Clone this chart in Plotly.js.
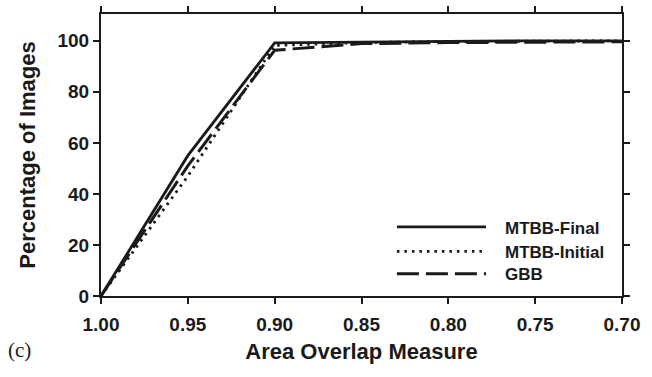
<!DOCTYPE html>
<html>
<head>
<meta charset="utf-8">
<script src="https://cdn.plot.ly/plotly-3.0.1.min.js"></script>
<style>html,body{margin:0;padding:0;background:#fff;}#chart{width:652px;height:377px;}</style>
</head>
<body>
<div id="chart"></div>
<script>
// Data
const overlap = [1.00, 0.95, 0.90, 0.85, 0.80, 0.75, 0.70];
const mtbbFinal = [0, 55, 99.2, 99.6, 99.8, 100, 100];
const mtbbInitial = [0, 47, 98.2, 99.3, 99.7, 99.9, 100];
const gbb = [0, 51, 96.3, 98.9, 99.3, 99.5, 99.6];
const seriesNames = ['MTBB-Final', 'MTBB-Initial', 'GBB'];
const xTicks = [1.00, 0.95, 0.90, 0.85, 0.80, 0.75, 0.70];
const yTicks = [0, 20, 40, 60, 80, 100];

const FONT = 'Liberation Sans, Arial, sans-serif';
const dashes = ['solid', '2.5px,5px', '22px,7px'];
const widths = [2.8, 2.8, 3];
const ys = [mtbbFinal, mtbbInitial, gbb];

const traces = ys.map((y, i) => ({
  x: overlap, y: y, type: 'scatter', mode: 'lines', name: seriesNames[i],
  line: {color: '#1a1a1a', width: widths[i], dash: dashes[i]},
  showlegend: false
}));

// legend drawn with shapes + text
const legY = [0.245, 0.158, 0.079];
const shapes = legY.map((yy, i) => ({
  type: 'line', xref: 'paper', yref: 'paper', x0: 0.568, x1: 0.739, y0: yy, y1: yy,
  line: {color: '#1a1a1a', width: widths[i], dash: dashes[i]}
}));
const annotations = legY.map((yy, i) => ({
  xref: 'paper', yref: 'paper', x: 0.771, y: yy - 0.004, xanchor: 'left', yanchor: 'middle',
  text: seriesNames[i], showarrow: false,
  font: {family: FONT, size: 17, color: '#1a1a1a', weight: 'bold'}
}));
annotations.push({
  xref: 'paper', yref: 'paper', x: -0.183, y: -0.19, xanchor: 'left', yanchor: 'middle',
  text: '(c)', showarrow: false,
  font: {family: 'Liberation Serif, Times New Roman, serif', size: 21, color: '#1a1a1a'}
});

const axisCommon = {
  showgrid: false, zeroline: false, showline: true, linecolor: '#1a1a1a', linewidth: 2,
  mirror: 'allticks', ticks: 'outside', ticklen: 6, tickwidth: 2, tickcolor: '#1a1a1a',
  tickfont: {family: FONT, size: 19, color: '#1a1a1a', weight: 'bold'}
};

const layout = {
  width: 652, height: 377,
  margin: {l: 101, r: 30, t: 14, b: 81},
  paper_bgcolor: '#ffffff', plot_bgcolor: '#ffffff',
  xaxis: Object.assign({}, axisCommon, {
    range: [1.0, 0.7], tickvals: xTicks, ticktext: xTicks.map(v => v.toFixed(2)),
    ticklabelstandoff: 4,
    title: {text: 'Area Overlap Measure', standoff: 10,
      font: {family: FONT, size: 22, color: '#1a1a1a', weight: 'bold'}}
  }),
  yaxis: Object.assign({}, axisCommon, {
    range: [0, 110.5], tickvals: yTicks,
    title: {text: 'Percentage of Images', standoff: 16,
      font: {family: FONT, size: 22, color: '#1a1a1a', weight: 'bold'}}
  }),
  shapes: shapes,
  annotations: annotations
};

Plotly.newPlot('chart', traces, layout, {displayModeBar: false, staticPlot: true});
</script>
</body>
</html>
